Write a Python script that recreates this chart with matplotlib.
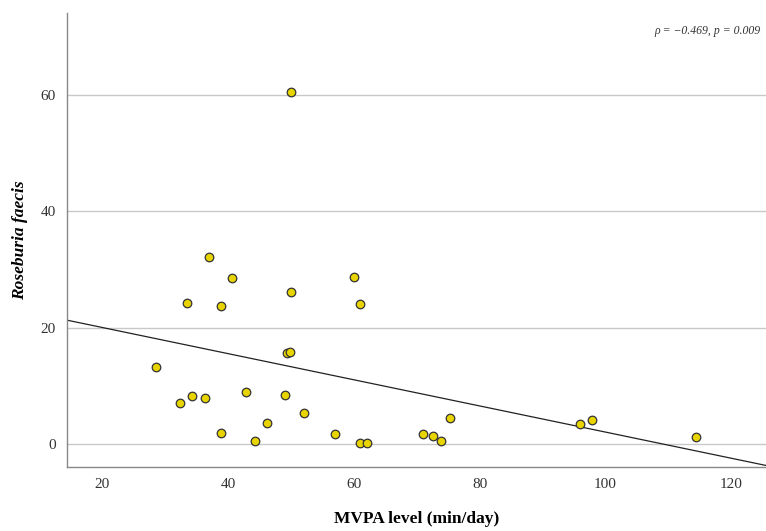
import numpy as np
import matplotlib
matplotlib.use("Agg")
import matplotlib.pyplot as plt

mvpa = [50.05, 37.0, 40.6, 33.5, 38.9, 50.0, 60.0, 61.0, 49.3, 49.9,
        28.6, 32.4, 34.2, 36.3, 42.9, 49.0, 52.0, 46.2, 38.9, 44.3,
        57.0, 61.0, 62.1, 71.0, 72.6, 73.9, 75.3, 95.9, 97.8, 114.4]
roseburia = [60.4, 32.1, 28.5, 24.3, 23.7, 26.2, 28.7, 24.0, 15.7, 15.9,
             13.3, 7.0, 8.3, 8.0, 9.0, 8.5, 5.3, 3.6, 2.0, 0.6,
             1.7, 0.2, 0.2, 1.7, 1.5, 0.5, 4.5, 3.4, 4.2, 1.3]
fit_intercept = 24.53
fit_slope = -0.2244
xticks = [20, 40, 60, 80, 100, 120]
yticks = [0, 20, 40, 60]

plt.rcParams['font.family'] = ['Liberation Serif', 'DejaVu Serif']

fig = plt.figure(figsize=(7.66, 5.31), dpi=100)
ax = fig.add_axes([0.0875, 0.1205, 0.9125, 0.855])
xlim = (14.4, 125.5)
ylim = (-3.9, 74)
ax.set_xlim(*xlim)
ax.set_ylim(*ylim)

ax.grid(axis='y', color='#c8c8c8', linewidth=1.0, zorder=0)
ax.set_axisbelow(True)

xs = np.array(xlim)
ax.plot(xs, fit_intercept + fit_slope * xs, color='#222222', linewidth=0.9, zorder=2)
ax.scatter(mvpa, roseburia, s=38, facecolor='#e8d400', edgecolor='#333333',
           linewidth=0.9, zorder=3)

ax.set_xticks(xticks)
ax.set_yticks(yticks)
ax.tick_params(length=0, labelsize=11, colors='#333333', pad=8)
for s in ['top', 'right']:
    ax.spines[s].set_visible(False)
for s in ['left', 'bottom']:
    ax.spines[s].set_color('#888888')
    ax.spines[s].set_linewidth(1.0)

ax.set_xlabel('MVPA level (min/day)', fontsize=12.5, fontweight='bold', labelpad=14)
ax.set_ylabel('Roseburia faecis', fontsize=12.5, fontweight='bold', style='italic', labelpad=9)

ax.text(0.992, 0.96, 'ρ = −0.469, p = 0.009', transform=ax.transAxes,
        ha='right', va='center', fontsize=8.5, style='italic', color='#333333')

fig.savefig('out.png', dpi=100)
